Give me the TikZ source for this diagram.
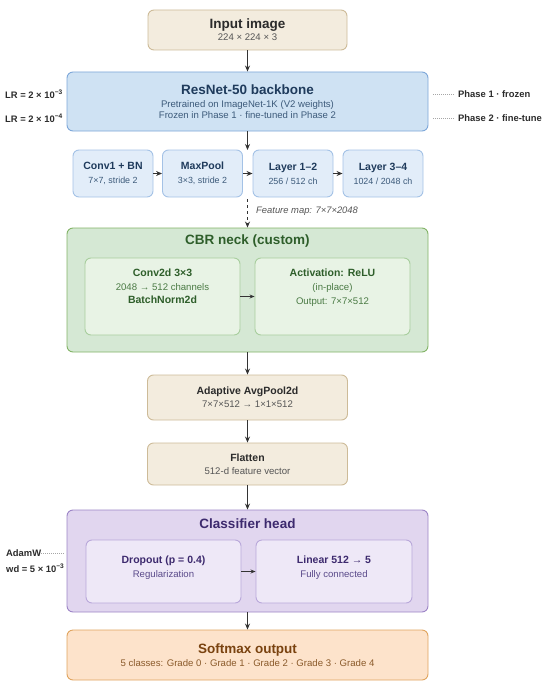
\documentclass[tikz,border=0pt]{standalone}
\usepackage{fontspec}
\setmainfont{Liberation Sans}
\usetikzlibrary{arrows.meta,positioning}

\definecolor{sandfill}{HTML}{F3ECDE}
\definecolor{sandline}{HTML}{CDBB98}
\definecolor{bluefill}{HTML}{CFE2F3}
\definecolor{blueline}{HTML}{7DA7D9}
\definecolor{bluelite}{HTML}{E2EDF9}
\definecolor{bluelitel}{HTML}{A4C2E6}
\definecolor{bluetext}{HTML}{1F3B5C}
\definecolor{bluesub}{HTML}{3C5A7A}
\definecolor{greenfill}{HTML}{D5E8D4}
\definecolor{greenline}{HTML}{82B366}
\definecolor{greenlite}{HTML}{E8F3E5}
\definecolor{greenlitel}{HTML}{A8CE9E}
\definecolor{greentext}{HTML}{2E5E2A}
\definecolor{greensub}{HTML}{4A7A44}
\definecolor{purpfill}{HTML}{E1D6EF}
\definecolor{purpline}{HTML}{9C84C6}
\definecolor{purplite}{HTML}{EEE8F7}
\definecolor{purplitel}{HTML}{B9A8DA}
\definecolor{purptext}{HTML}{3D2A6E}
\definecolor{purpsub}{HTML}{5A4A8A}
\definecolor{orfill}{HTML}{FDE3CB}
\definecolor{orline}{HTML}{E0A45E}
\definecolor{ortext}{HTML}{7A4310}
\definecolor{orsub}{HTML}{8A5A2A}
\definecolor{inktext}{HTML}{2B2B2B}
\definecolor{inksub}{HTML}{555555}
\definecolor{arrowgray}{HTML}{333333}

\newcommand{\bigtitle}[1]{{\fontsize{13.5}{15}\selectfont\bfseries #1}}
\newcommand{\midtitle}[1]{{\fontsize{10.5}{12.5}\selectfont\bfseries #1}}
\newcommand{\subline}[1]{{\fontsize{9.6}{11}\selectfont #1}}
\newcommand{\smallsub}[1]{{\fontsize{8.9}{10}\selectfont #1}}

\begin{document}
\begin{tikzpicture}[x=1pt, y=-1pt,
    box/.style={draw, rounded corners=6pt, line width=0.9pt, align=center, inner sep=0pt},
    arr/.style={-{Stealth[length=6pt,width=5pt]}, line width=1pt, draw=arrowgray},
    note/.style={font=\fontsize{9.4}{11}\selectfont\bfseries, text=inktext, inner sep=0pt},
    dots/.style={draw=gray!70, line width=0.6pt, dash pattern=on 1pt off 1pt}]
    \useasboundingbox (0,0) rectangle (550,690);

    % input and backbone
    \node[box, fill=sandfill, draw=sandline, minimum width=199pt, minimum height=40pt, text=inktext] (input) at (247.5,30)
        {\bigtitle{Input image}\\[0pt]{\color{inksub}\subline{224 × 224 × 3}}};
    \node[box, fill=bluefill, draw=blueline, minimum width=361pt, minimum height=59pt, text=bluetext] (backbone) at (247.5,101.5)
        {\bigtitle{ResNet-50 backbone}\\[1pt]{\color{bluesub}\subline{Pretrained on ImageNet-1K (V2 weights)}}\\[-1pt]{\color{bluesub}\subline{Frozen in Phase 1 · fine-tuned in Phase 2}}};

    \node[note, anchor=east] (lrone) at (63,94) {LR = 2 × 10\textsuperscript{−3}};
    \node[note, anchor=east] (lrtwo) at (63,118) {LR = 2 × 10\textsuperscript{−4}};
    \coordinate (phonestart) at (433,94);
    \coordinate (phtwostart) at (433,118);
    \node[note, anchor=west] (phone) at (458,94) {Phase 1 · frozen};
    \node[note, anchor=west] (phtwo) at (458,118) {Phase 2 · fine-tune};
    \draw[dots] (phonestart) -- ([xshift=-3pt]phone.west);
    \draw[dots] (phtwostart) -- ([xshift=-3pt]phtwo.west);

    % backbone stages
    \node[box, fill=bluelite, draw=bluelitel, minimum width=80pt, minimum height=47pt, text=bluetext] (conv1) at (113,173.5)
        {\midtitle{Conv1 + BN}\\[2pt]{\color{bluesub}\smallsub{7×7, stride 2}}};
    \node[box, fill=bluelite, draw=bluelitel, minimum width=80pt, minimum height=47pt, text=bluetext] (maxpool) at (202.5,173.5)
        {\midtitle{MaxPool}\\[2pt]{\color{bluesub}\smallsub{3×3, stride 2}}};
    \node[box, fill=bluelite, draw=bluelitel, minimum width=80pt, minimum height=47pt, text=bluetext] (layers12) at (293,173.5)
        {\midtitle{Layer 1–2}\\[2pt]{\color{bluesub}\smallsub{256 / 512 ch}}};
    \node[box, fill=bluelite, draw=bluelitel, minimum width=80pt, minimum height=47pt, text=bluetext] (layers34) at (383,173.5)
        {\midtitle{Layer 3–4}\\[2pt]{\color{bluesub}\smallsub{1024 / 2048 ch}}};
    \coordinate (rowtop) at (247.5,150);
    \coordinate (rowbottom) at (247.5,199);

    \draw[arr] (input) -- (backbone);
    \draw[arr] (backbone) -- (rowtop);
    \draw[arr] (conv1) -- (maxpool);
    \draw[arr] (maxpool) -- (layers12);
    \draw[arr] (layers12) -- (layers34);

    % CBR neck
    \node[box, fill=greenfill, draw=greenline, minimum width=361pt, minimum height=124pt] (neck) at (247.5,290) {};
    \node[text=greentext] (necktitle) at (247.5,241) {\bigtitle{CBR neck (custom)}};
    \node[box, fill=greenlite, draw=greenlitel, minimum width=155pt, minimum height=77pt] (conv2d) at (162.5,296.5) {};
    \node[box, fill=greenlite, draw=greenlitel, minimum width=155pt, minimum height=77pt] (relu) at (332.5,296.5) {};
    \node[below=11pt of conv2d.north, align=center, inner sep=0pt, text=greentext] (conv2dtext)
        {\midtitle{Conv2d 3×3}\\[2pt]{\color{greensub}\subline{2048 → 512 channels}}\\[1pt]\midtitle{BatchNorm2d}};
    \node[below=11pt of relu.north, align=center, inner sep=0pt, text=greentext] (relutext)
        {\midtitle{Activation: ReLU}\\[2pt]{\color{greensub}\subline{(in-place)}}\\[2pt]{\color{greensub}\subline{Output: 7×7×512}}};
    \draw[arr, -{Stealth[length=5pt,width=4pt]}] (conv2d) -- (relu);

    \draw[arr, dashed] (rowbottom) -- (neck);
    \node[anchor=west, inner sep=0pt, text=inksub] (featmap) at (256,211)
        {\fontsize{9.4}{11}\selectfont\itshape Feature map: 7×7×2048};

    % pooling
    \node[box, fill=sandfill, draw=sandline, minimum width=200pt, minimum height=45pt, text=inktext] (avgpool) at (247.5,397.5)
        {\midtitle{Adaptive AvgPool2d}\\[1pt]{\color{inksub}\subline{7×7×512 → 1×1×512}}};
    \node[box, fill=sandfill, draw=sandline, minimum width=200pt, minimum height=42pt, text=inktext] (flatten) at (247.5,464)
        {\midtitle{Flatten}\\[1pt]{\color{inksub}\subline{512-d feature vector}}};
    \draw[arr] (neck) -- (avgpool);
    \draw[arr] (avgpool) -- (flatten);

    % classifier head
    \node[box, fill=purpfill, draw=purpline, minimum width=361pt, minimum height=102pt] (head) at (247.5,561) {};
    \node[text=purptext] (headtitle) at (247.5,524) {\bigtitle{Classifier head}};
    \node[box, fill=purplite, draw=purplitel, minimum width=155pt, minimum height=63pt] (dropout) at (163.5,571.5) {};
    \node[box, fill=purplite, draw=purplitel, minimum width=156pt, minimum height=63pt] (linear) at (334,571.5) {};
    \node[below=16pt of dropout.north, align=center, inner sep=0pt, text=purptext] (dropouttext)
        {\midtitle{Dropout (p = 0.4)}\\[2pt]{\color{purpsub}\subline{Regularization}}};
    \node[below=16pt of linear.north, align=center, inner sep=0pt, text=purptext] (lineartext)
        {\midtitle{Linear 512 → 5}\\[2pt]{\color{purpsub}\subline{Fully connected}}};
    \draw[arr, -{Stealth[length=5pt,width=4pt]}] (dropout) -- (linear);
    \draw[arr] (flatten) -- (head);

    \node[note, anchor=west] (adamw) at (6,553) {AdamW};
    \node[note, anchor=west] (wdecay) at (6,568) {wd = 5 × 10\textsuperscript{−3}};
    \coordinate (adamwend) at (64,553);
    \draw[dots] (adamw.east) -- (adamwend);

    % output
    \node[box, fill=orfill, draw=orline, minimum width=361pt, minimum height=50pt, text=ortext] (softmax) at (247.5,655)
        {\bigtitle{Softmax output}\\[1pt]{\color{orsub}\subline{5 classes: Grade 0 · Grade 1 · Grade 2 · Grade 3 · Grade 4}}};
    \draw[arr] (head) -- (softmax);
\end{tikzpicture}
\end{document}
